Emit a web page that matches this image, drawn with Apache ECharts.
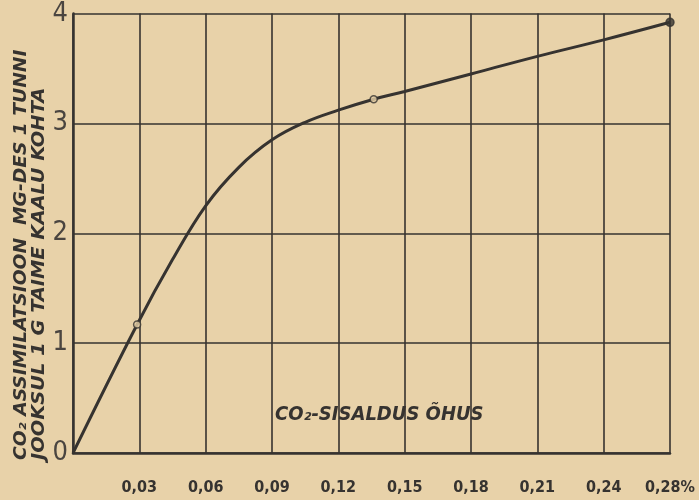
<!DOCTYPE html>
<html>
<head>
<meta charset="utf-8">
<script src="https://cdn.jsdelivr.net/npm/echarts@6/dist/echarts.min.js"></script>
<style>
  html, body { margin: 0; padding: 0; background: #e8d2a9; }
  #chart { width: 699px; height: 500px; }
</style>
</head>
<body>
<div id="chart"></div>
<script>
// CO2 content of air (%) — plotted positions; the last tick is labelled 0,28 %
const co2Percent = [0, 0.029, 0.045, 0.06, 0.075, 0.09, 0.105, 0.12, 0.136, 0.15, 0.18, 0.21, 0.24, 0.27];
// CO2 assimilation, mg per hour per 1 g plant weight
const assimilation = [0, 1.17, 1.76, 2.25, 2.6, 2.85, 3.01, 3.12, 3.22, 3.29, 3.45, 3.61, 3.76, 3.92];

// measured points marked on the curve
const markX = [0.029, 0.136, 0.27];
const markY = [1.17, 3.22, 3.92];
const markFilled = [false, false, true];

const xTickLabels = ['', '0,03', '0,06', '0,09', '0,12', '0,15', '0,18', '0,21', '0,24', '0,28%'];
const yTickLabels = ['0', '1', '2', '3', '4'];

const xTitle = 'CO₂-SISALDUS ÕHUS';
const yTitle1 = 'CO₂ ASSIMILATSIOON  MG-DES 1 TUNNI';
const yTitle2 = 'JOOKSUL 1 G TAIME KAALU KOHTA';

const ink = '#363330';
const paper = '#e8d2a9';
const titleFont = '"Liberation Sans Narrow", "DejaVu Sans Condensed", "Roboto", sans-serif';

const lineData = co2Percent.map((x, i) => [x, assimilation[i]]);
const markData = markX.map((x, i) => ({
  value: [x, markY[i]],
  itemStyle: { color: markFilled[i] ? ink : paper, borderColor: ink, borderWidth: 1.5 },
  symbolSize: markFilled[i] ? 8 : 7
}));

const chart = echarts.init(document.getElementById('chart'), null, { renderer: 'canvas' });
chart.setOption({
  backgroundColor: paper,
  animation: false,
  grid: { left: 73, right: 29, top: 13, bottom: 47 },
  xAxis: {
    type: 'value',
    min: 0, max: 0.27, interval: 0.03,
    axisLine: { show: true, lineStyle: { color: ink, width: 2.5 } },
    axisTick: { show: false },
    splitLine: { show: true, lineStyle: { color: ink, width: 1.6 } },
    axisLabel: {
      margin: 27,
      color: ink,
      fontFamily: titleFont,
      fontWeight: 'bold',
      fontSize: 16,
      formatter: v => xTickLabels[Math.round(v / 0.03)] || ''
    }
  },
  yAxis: {
    type: 'value',
    min: 0, max: 4, interval: 1,
    axisLine: { show: true, lineStyle: { color: ink, width: 2.5 } },
    axisTick: { show: false },
    splitLine: { show: true, lineStyle: { color: ink, width: 1.6 } },
    axisLabel: {
      margin: 5,
      color: '#4a4540',
      fontFamily: titleFont,
      fontSize: 27,
      formatter: v => yTickLabels[Math.round(v)]
    }
  },
  graphic: [
    {
      type: 'text', left: 275, top: 405,
      style: { text: xTitle, fill: ink, font: 'italic bold 20px ' + titleFont }
    },
    {
      type: 'text', x: 22, y: 460, rotation: Math.PI / 2, scaleX: 1.22,
      style: { text: yTitle1, fill: ink, font: 'italic bold 17px ' + titleFont, textAlign: 'left', textVerticalAlign: 'middle' }
    },
    {
      type: 'text', x: 40, y: 460, rotation: Math.PI / 2, scaleX: 1.27,
      style: { text: yTitle2, fill: ink, font: 'italic bold 17px ' + titleFont, textAlign: 'left', textVerticalAlign: 'middle' }
    }
  ],
  series: [
    {
      type: 'line',
      data: lineData,
      smooth: 0.4,
      showSymbol: false,
      lineStyle: { color: ink, width: 3 },
      z: 3
    },
    {
      type: 'scatter',
      data: markData,
      symbol: 'circle',
      z: 4
    }
  ]
});
</script>
</body>
</html>
